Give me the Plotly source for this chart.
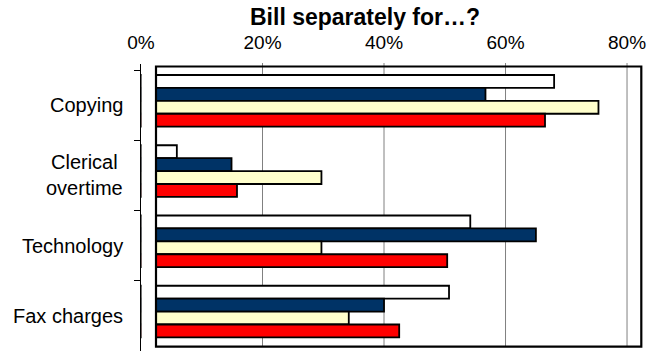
import plotly.graph_objects as go

# Survey: share of firms that bill separately for each cost item
categories = ["Copying", "Clerical overtime", "Technology", "Fax charges"]
label_text = ["Copying", "Clerical<br>overtime", "Technology", "Fax charges"]

series_white = [68.0, 5.9, 54.2, 50.7]
series_navy = [56.7, 14.9, 65.0, 40.0]
series_yellow = [75.3, 29.7, 29.7, 34.2]
series_red = [66.5, 15.8, 50.4, 42.5]

tick_values = [0, 20, 40, 60, 80]
tick_labels = ["0%", "20%", "40%", "60%", "80%"]

W, H = 656, 351
L, R, T, B = 141, 15, 70, 0
PW, PH = W - L - R, H - T - B
X_MAX = 82.3

FONT = "Liberation Sans, Arial, sans-serif"

def px_x(px):
    return (px - L) / PW

def px_y(py):
    return (H - B - py) / PH

fig = go.Figure()

series = [
    ("Series 1", series_white, "#FFFFFF"),
    ("Series 2", series_navy, "#003366"),
    ("Series 3", series_yellow, "#FFFFCC"),
    ("Series 4", series_red, "#FF0000"),
]
bar_w = 0.184
start = -0.429
for i, (name, vals, color) in enumerate(series):
    fig.add_trace(go.Bar(
        name=name,
        y=categories,
        x=vals,
        orientation="h",
        width=bar_w,
        offset=start + i * bar_w,
        marker=dict(color=color, line=dict(color="black", width=1.8)),
        showlegend=False,
    ))

shapes = []
# vertical gridlines
for v in tick_values[1:]:
    shapes.append(dict(type="line", xref="x", yref="paper", x0=v, x1=v,
                       y0=px_y(346.7), y1=px_y(63),
                       line=dict(color="#808080", width=1), layer="below"))
# mask the strip between the axis and the frame
shapes.append(dict(type="rect", xref="paper", yref="paper",
                   x0=px_x(141.6), x1=px_x(156), y0=px_y(351), y1=px_y(66),
                   fillcolor="white", line=dict(width=0), layer="above"))
# plot frame
shapes.append(dict(type="rect", xref="paper", yref="paper",
                   x0=px_x(156), x1=px_x(641.3), y0=px_y(346.7), y1=px_y(66.5),
                   line=dict(color="black", width=2.2), fillcolor="rgba(0,0,0,0)",
                   layer="above"))
# category axis line
shapes.append(dict(type="line", xref="paper", yref="paper",
                   x0=px_x(140.5), x1=px_x(140.5), y0=px_y(351), y1=px_y(64),
                   line=dict(color="black", width=1), layer="above"))

annotations = [dict(
    text="<b>Bill separately for…?</b>", xref="paper", yref="paper",
    x=px_x(364.5), y=px_y(17.0), xanchor="center", yanchor="middle",
    showarrow=False, font=dict(family=FONT, size=23, color="black"))]
for cat, txt in zip(categories, label_text):
    annotations.append(dict(
        text=txt, xref="paper", yref="y", x=px_x(125), y=cat,
        xanchor="right", yanchor="middle", align="center", showarrow=False,
        font=dict(family=FONT, size=20, color="black")))

fig.update_layout(
    width=W, height=H,
    margin=dict(l=L, r=R, t=T, b=B, pad=0),
    paper_bgcolor="white", plot_bgcolor="white",
    barmode="overlay",
    shapes=shapes,
    annotations=annotations,
    xaxis=dict(range=[0, X_MAX], side="top", tickvals=tick_values,
               ticktext=tick_labels, showgrid=False, zeroline=False,
               showline=False, ticks="", ticklabelstandoff=16,
               tickfont=dict(family=FONT, size=19, color="black")),
    yaxis=dict(categoryorder="array", categoryarray=categories,
               range=[3.5, -0.5], showticklabels=False, tickson="boundaries",
               ticks="outside", ticklen=6, tickcolor="black", tickwidth=1,
               showgrid=False, zeroline=False, showline=False),
)

fig.write_html("out.html")
